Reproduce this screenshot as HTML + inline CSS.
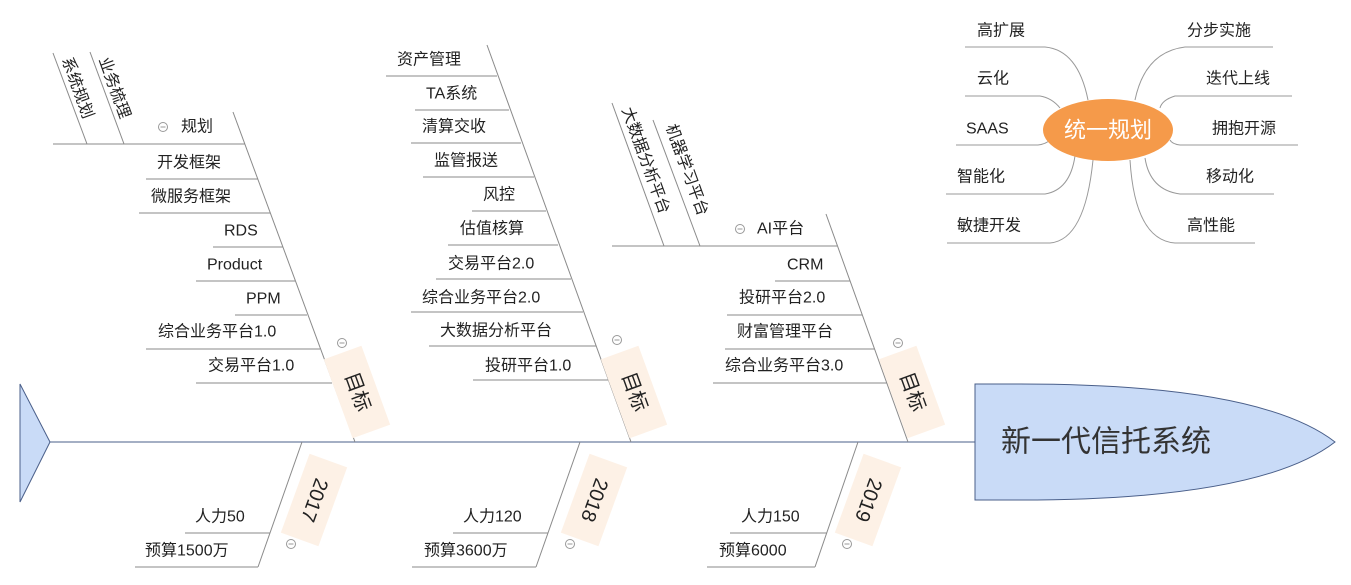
<!DOCTYPE html>
<html><head><meta charset="utf-8"><style>
html,body{margin:0;padding:0;background:#fff;}
svg{display:block;}
text{font-family:"Liberation Sans","Noto Sans CJK SC",sans-serif;font-size:16px;fill:#222;dominant-baseline:central;}
.ln{stroke:#8a8a8a;stroke-width:1;fill:none;}
.mm{stroke:#999;stroke-width:1;fill:none;}
.box{fill:#fdf1e6;}
.c{fill:none;stroke:#999;stroke-width:1;}
</style></head><body>
<svg width="1351" height="585" viewBox="0 0 1351 585" xmlns="http://www.w3.org/2000/svg">
<line x1="50" y1="442" x2="975" y2="442" stroke="#4a5f8a" stroke-width="1"/>
<polygon points="20,384 50,442 20,502" fill="#c9dbf7" stroke="#4a5f8a"/>
<path d="M975,384 L1020,384 Q1260,384 1335,442 Q1260,500 1020,500 L975,500 Z" fill="#c9dbf7" stroke="#4a5f8a"/>
<text x="1001" y="442" style="font-size:30px;fill:#333">新一代信托系统</text>

<!-- Bone 1 -->
<line class="ln" x1="355" y1="442" x2="233" y2="112"/>
<line class="ln" x1="53" y1="144" x2="245" y2="144"/>
<line class="ln" x1="53" y1="53" x2="87" y2="144"/>
<line class="ln" x1="90" y1="52" x2="124" y2="144"/>
<text transform="translate(66,58) rotate(70)" style="font-size:16px">系统规划</text>
<text transform="translate(103,58) rotate(70)" style="font-size:16px">业务梳理</text>
<circle class="c" cx="163" cy="127" r="4.5"/><line x1="160.5" y1="127" x2="165.5" y2="127" stroke="#999"/>
<text x="181" y="127">规划</text>
<line class="ln" x1="146" y1="179" x2="258" y2="179"/><text x="157" y="163">开发框架</text>
<line class="ln" x1="139" y1="213" x2="270" y2="213"/><text x="151" y="197">微服务框架</text>
<line class="ln" x1="213" y1="247" x2="283" y2="247"/><text x="224" y="231">RDS</text>
<line class="ln" x1="196" y1="281" x2="295" y2="281"/><text x="207" y="265">Product</text>
<line class="ln" x1="235" y1="315" x2="307" y2="315"/><text x="246" y="299">PPM</text>
<line class="ln" x1="146" y1="349" x2="320" y2="349"/><text x="158" y="332">综合业务平台1.0</text>
<line class="ln" x1="196" y1="383" x2="332" y2="383"/><text x="208" y="366">交易平台1.0</text>
<g transform="translate(357,392) rotate(-20)"><rect class="box" x="-20" y="-42" width="40" height="84"/><text transform="rotate(90)" x="0" y="0" text-anchor="middle" style="font-size:20px">目标</text></g>
<circle class="c" cx="342" cy="343" r="4.5"/><line x1="339.5" y1="343" x2="344.5" y2="343" stroke="#999"/>

<!-- Bone 2 -->
<line class="ln" x1="631" y1="442" x2="487" y2="45"/>
<line class="ln" x1="386" y1="76" x2="497" y2="76"/><text x="397" y="60">资产管理</text>
<line class="ln" x1="415" y1="110" x2="509" y2="110"/><text x="426" y="94">TA系统</text>
<line class="ln" x1="411" y1="143" x2="521" y2="143"/><text x="422" y="127">清算交收</text>
<line class="ln" x1="423" y1="177" x2="534" y2="177"/><text x="434" y="161">监管报送</text>
<line class="ln" x1="472" y1="211" x2="546" y2="211"/><text x="483" y="195">风控</text>
<line class="ln" x1="448" y1="245" x2="558" y2="245"/><text x="460" y="229">估值核算</text>
<line class="ln" x1="436" y1="279" x2="571" y2="279"/><text x="448" y="264">交易平台2.0</text>
<line class="ln" x1="411" y1="312" x2="583" y2="312"/><text x="422" y="298">综合业务平台2.0</text>
<line class="ln" x1="429" y1="346" x2="596" y2="346"/><text x="440" y="331">大数据分析平台</text>
<line class="ln" x1="473" y1="380" x2="608" y2="380"/><text x="485" y="366">投研平台1.0</text>
<g transform="translate(634,392) rotate(-20)"><rect class="box" x="-20" y="-42" width="40" height="84"/><text transform="rotate(90)" x="0" y="0" text-anchor="middle" style="font-size:20px">目标</text></g>
<circle class="c" cx="617" cy="340" r="4.5"/><line x1="614.5" y1="340" x2="619.5" y2="340" stroke="#999"/>

<!-- Bone 3 -->
<line class="ln" x1="908" y1="442" x2="826" y2="214"/>
<line class="ln" x1="612" y1="246" x2="837" y2="246"/>
<line class="ln" x1="612" y1="103" x2="664" y2="246"/>
<line class="ln" x1="653" y1="120" x2="700" y2="246"/>
<text transform="translate(626,108) rotate(70)" style="font-size:16px">大数据分析平台</text>
<text transform="translate(670,125) rotate(70)" style="font-size:16px">机器学习平台</text>
<circle class="c" cx="740" cy="229" r="4.5"/><line x1="737.5" y1="229" x2="742.5" y2="229" stroke="#999"/>
<text x="757" y="229">AI平台</text>
<line class="ln" x1="775" y1="281" x2="850" y2="281"/><text x="787" y="265">CRM</text>
<line class="ln" x1="727" y1="315" x2="862" y2="315"/><text x="739" y="298">投研平台2.0</text>
<line class="ln" x1="725" y1="349" x2="875" y2="349"/><text x="737" y="332">财富管理平台</text>
<line class="ln" x1="713" y1="383" x2="887" y2="383"/><text x="725" y="366">综合业务平台3.0</text>
<g transform="translate(912,392) rotate(-20)"><rect class="box" x="-20" y="-42" width="40" height="84"/><text transform="rotate(90)" x="0" y="0" text-anchor="middle" style="font-size:20px">目标</text></g>
<circle class="c" cx="898" cy="343" r="4.5"/><line x1="895.5" y1="343" x2="900.5" y2="343" stroke="#999"/>

<!-- Lower bones -->
<line class="ln" x1="302" y1="442" x2="258" y2="567"/>
<line class="ln" x1="185" y1="533" x2="270" y2="533"/><text x="195" y="517">人力50</text>
<line class="ln" x1="135" y1="567" x2="258" y2="567"/><text x="145" y="551">预算1500万</text>
<g transform="translate(314,500) rotate(20)"><rect class="box" x="-20" y="-42" width="40" height="84"/><text transform="rotate(90)" x="0" y="0" text-anchor="middle" style="font-size:20px">2017</text></g>
<circle class="c" cx="291" cy="544" r="4.5"/><line x1="288.5" y1="544" x2="293.5" y2="544" stroke="#999"/>

<line class="ln" x1="580" y1="442" x2="536" y2="567"/>
<line class="ln" x1="453" y1="533" x2="548" y2="533"/><text x="463" y="517">人力120</text>
<line class="ln" x1="412" y1="567" x2="536" y2="567"/><text x="424" y="551">预算3600万</text>
<g transform="translate(594,500) rotate(20)"><rect class="box" x="-20" y="-42" width="40" height="84"/><text transform="rotate(90)" x="0" y="0" text-anchor="middle" style="font-size:20px">2018</text></g>
<circle class="c" cx="570" cy="544" r="4.5"/><line x1="567.5" y1="544" x2="572.5" y2="544" stroke="#999"/>

<line class="ln" x1="858" y1="442" x2="815" y2="567"/>
<line class="ln" x1="730" y1="533" x2="827" y2="533"/><text x="741" y="517">人力150</text>
<line class="ln" x1="707" y1="567" x2="815" y2="567"/><text x="719" y="551">预算6000</text>
<g transform="translate(868,500) rotate(20)"><rect class="box" x="-20" y="-42" width="40" height="84"/><text transform="rotate(90)" x="0" y="0" text-anchor="middle" style="font-size:20px">2019</text></g>
<circle class="c" cx="847" cy="544" r="4.5"/><line x1="844.5" y1="544" x2="849.5" y2="544" stroke="#999"/>

<!-- Mind map -->
<path class="mm" d="M965,47 L1045,47 Q1078,50 1088,100"/>
<path class="mm" d="M965,96 L1040,96 Q1052,98 1060,108"/>
<path class="mm" d="M956,145 L1038,145 Q1046,144 1050,140"/>
<path class="mm" d="M946,194 L1045,194 Q1070,190 1075,156"/>
<path class="mm" d="M947,243 L1050,243 Q1085,240 1093,160"/>
<path class="mm" d="M1273,47 L1185,47 Q1145,52 1135,100"/>
<path class="mm" d="M1292,96 L1175,96 Q1162,100 1160,108"/>
<path class="mm" d="M1298,145 L1180,145 Q1172,144 1170,140"/>
<path class="mm" d="M1274,194 L1180,194 Q1150,190 1145,158"/>
<path class="mm" d="M1255,243 L1175,243 Q1135,240 1130,160"/>
<ellipse cx="1108" cy="130" rx="65" ry="31" fill="#f59a4a"/>
<text x="1108" y="130" text-anchor="middle" style="font-size:22px;fill:#fff">统一规划</text>
<text x="977" y="31">高扩展</text>
<text x="977" y="79">云化</text>
<text x="966" y="129">SAAS</text>
<text x="957" y="177">智能化</text>
<text x="957" y="226">敏捷开发</text>
<text x="1187" y="31">分步实施</text>
<text x="1206" y="79">迭代上线</text>
<text x="1212" y="129">拥抱开源</text>
<text x="1206" y="177">移动化</text>
<text x="1187" y="226">高性能</text>
</svg>
</body></html>
